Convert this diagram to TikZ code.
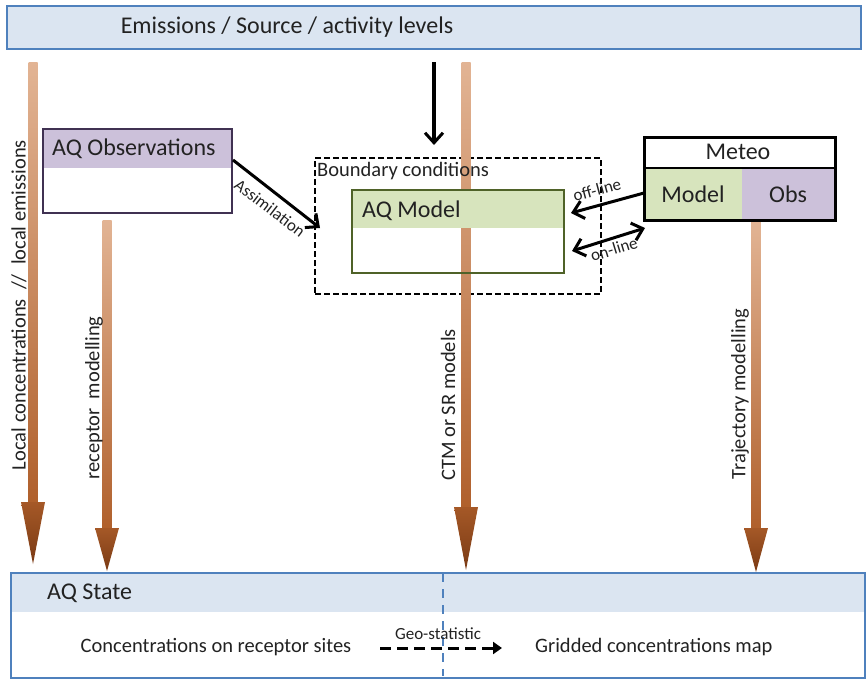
\documentclass[tikz,border=0pt]{standalone}
\usepackage{fontspec}
\setmainfont{Carlito}
\usetikzlibrary{arrows.meta,calc}
\definecolor{lblue}{HTML}{DBE5F1}
\definecolor{bblue}{HTML}{4F81BD}
\definecolor{lpurple}{HTML}{CCC1DA}
\definecolor{dpurple}{HTML}{403152}
\definecolor{lgreen}{HTML}{D7E4BD}
\definecolor{dgreen}{HTML}{4F6228}
\definecolor{tan1}{HTML}{E2B494}
\definecolor{brown1}{HTML}{B0602C}
\definecolor{brown2}{HTML}{7A3A14}
\definecolor{txt}{HTML}{222222}
\newcommand\brarrow[5]{% x, ytop, yheadstart, ytip, halfwidth
  \shade[top color=tan1,bottom color=brown1] (#1-4.5,#2) rectangle (#1+4.5,#3);
  \shade[top color=brown1!80!brown2,bottom color=brown2] (#1-#5,#3) -- (#1+#5,#3) -- (#1,#4) -- cycle;
}
\begin{document}
\begin{tikzpicture}[x=1pt,y=-1pt,
  txtnode/.style={text=txt,inner sep=0pt},
  bigtxt/.style={txtnode,font=\fontsize{24}{26}\selectfont},
  midtxt/.style={txtnode,font=\fontsize{20.5}{22}\selectfont},
  smalltxt/.style={txtnode,font=\fontsize{17}{19}\selectfont},
  blackarrow/.style={line width=3pt,-{Straight Barb[length=10pt,width=18pt,line width=3pt]}},
  ]
\useasboundingbox (0,0) rectangle (866,680);
% top box
\node[draw=bblue,line width=1.5pt,fill=lblue,minimum width=854pt,minimum height=43pt,anchor=north west,inner sep=0pt] (top) at (6,5) {};
\node[bigtxt] (toptxt) at (287,27) {Emissions / Source / activity levels};
% bottom box
\fill[lblue] (10,572) rectangle (864,612);
\node[draw=bblue,line width=1.5pt,minimum width=854pt,minimum height=105pt,anchor=north west,inner sep=0pt] (bot) at (10,572) {};
\draw[bblue,line width=2pt,dash pattern=on 9pt off 7pt] (443,573) -- (443,676);
\node[bigtxt,anchor=west] (aqstate) at (47,593) {AQ State};
\node[midtxt] (conc) at (216,647) {Concentrations on receptor sites};
\node[midtxt,anchor=west] (grid) at (535,647) {Gridded concentrations map};
\draw[line width=3pt,dash pattern=on 11pt off 6pt,-{Triangle[length=9pt,width=12pt]}] (380,648) -- (502,648);
\node[smalltxt] (geo) at (438,634) {Geo-statistic};
% dashed boundary box
\node[draw=black,line width=2pt,dash pattern=on 6pt off 3pt,minimum width=286pt,minimum height=136pt,anchor=north west,inner sep=0pt] (bc) at (314,157) {};
% brown arrows
\brarrow{33}{62}{502}{564}{12}
\brarrow{107}{220}{528}{571}{12}
\brarrow{466}{62}{507}{570}{12}
\brarrow{756}{220}{528}{572}{12}
\node[midtxt,anchor=west] (bctxt) at (317,171) {Boundary conditions};
% AQ model
\fill[lgreen] (351,189) rectangle (563,228);
\node[draw=dgreen,line width=2pt,minimum width=212pt,minimum height=83pt,anchor=north west,inner sep=0pt] (model) at (351,189) {};
\node[bigtxt,anchor=west] (modeltxt) at (362,211) {AQ Model};
% black arrow
\coordinate (bstart) at (434,62);
\coordinate (bend) at (434,145);
\draw[blackarrow,line width=4pt] (bstart) -- (bend);
% AQ Observations
\fill[lpurple] (42,128) rectangle (231,168);
\node[draw=dpurple,line width=2pt,minimum width=189pt,minimum height=84pt,anchor=north west,inner sep=0pt] (obs) at (42,128) {};
\node[bigtxt,anchor=west] (obstxt) at (52,149) {AQ Observations};
% Meteo
\fill[lgreen] (643,168) rectangle (742,219);
\fill[lpurple] (742,168) rectangle (834,219);
\node[draw=black,line width=2.5pt,minimum width=191pt,minimum height=83pt,anchor=north west,inner sep=0pt] (meteo) at (643,136) {};
\draw[line width=2.5pt] (643,168) -- (834,168);
\node[bigtxt] (meteotxt) at (738,152) {Meteo};
\node[bigtxt] (mmodel) at (693,194) {Model};
\node[bigtxt] (mobs) at (788,194) {Obs};
% connectors
\coordinate (as1) at (233,160);
\coordinate (as2) at (320,228);
\draw[blackarrow] (as1) -- (as2);
\node[smalltxt,rotate=-37.5] (assim) at (270,208) {Assimilation};
\coordinate (off1) at (644,193);
\coordinate (off2) at (571,213);
\draw[blackarrow] (off1) -- (off2);
\node[smalltxt,rotate=15] (offl) at (597,190) {off-line};
\coordinate (on1) at (572,251);
\coordinate (on2) at (645,228);
\draw[line width=3pt,{Straight Barb[length=10pt,width=18pt,line width=3pt]}-{Straight Barb[length=10pt,width=18pt,line width=3pt]}] (on1) -- (on2);
\node[smalltxt,rotate=17] (onl) at (614,249) {on-line};
% rotated labels
\node[midtxt,rotate=90] (lab1) at (19,305) {Local concentrations\ \ //\ \ local emissions};
\node[midtxt,rotate=90] (lab2) at (94,398) {receptor\ \ modelling};
\node[midtxt,rotate=90] (lab3) at (448,405) {CTM or SR models};
\node[midtxt,rotate=90] (lab4) at (740,394) {Trajectory modelling};
\end{tikzpicture}
\end{document}
